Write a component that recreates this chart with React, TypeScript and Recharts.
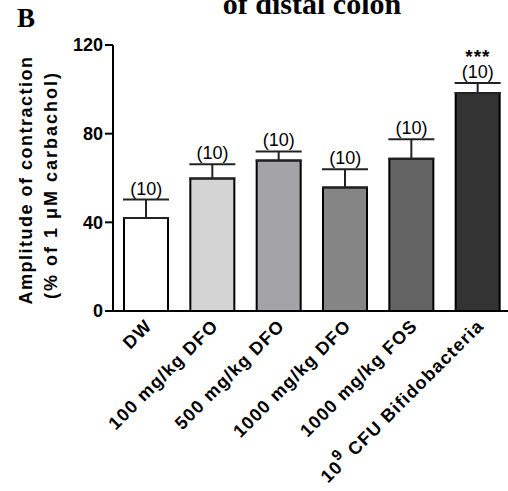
import React from "react";
import { Bar, Cell, ComposedChart, ErrorBar, LabelList, Line, XAxis, YAxis } from "recharts";

const groups = ["DW", "100 mg/kg DFO", "500 mg/kg DFO", "1000 mg/kg DFO", "1000 mg/kg FOS", "10^9 CFU Bifidobacteria"];
const means = [42, 59.8, 67.9, 55.7, 68.7, 98.3];
const sems = [8.3, 6.4, 4.1, 8.3, 8.8, 4.6];
const counts = ["(10)", "(10)", "(10)", "(10)", "(10)", "(10)"];
const marks = ["", "", "", "", "", "***"];
const fills = ["#ffffff", "#d4d4d4", "#a4a3a8", "#858585", "#636363", "#333333"];
const yTicks = [0, 40, 80, 120];

const data = groups.map((name, i) => ({
  name,
  mean: means[i],
  err: [0, sems[i]],
  top: means[i] + sems[i],
  n: counts[i],
  mark: marks[i]
}));

const sans = "'Liberation Sans', Arial, sans-serif";
const serif = "'Liberation Serif', 'Times New Roman', serif";

function GroupTick({ x, y, payload }: any) {
  const label: string = payload.value;
  const common = {
    textAnchor: "end" as const,
    fontFamily: sans,
    fontWeight: 700,
    fontSize: 18,
    letterSpacing: 1.2,
    fill: "#000"
  };
  if (label.startsWith("10^9")) {
    return (
      <g transform={`translate(${x + 7},${y + 16})`}>
        <text {...common} transform="rotate(-45)">
          <tspan>10</tspan>
          <tspan dy={-9} fontSize={15}>9</tspan>
          <tspan dy={9}>{"  CFU Bifidobacteria"}</tspan>
        </text>
      </g>
    );
  }
  return (
    <g transform={`translate(${x + 7},${y + 16})`}>
      <text {...common} transform="rotate(-45)">
        {label}
      </text>
    </g>
  );
}

export default function App() {
  return (
    <div style={{ position: "absolute", left: 0, top: 0, width: 508, height: 491, background: "#fff" }}>
      <ComposedChart width={508} height={491} data={data} margin={{ top: 45, right: -3, bottom: 0, left: 0 }}>
        <XAxis
          dataKey="name"
          interval={0}
          height={180}
          tickLine={false}
          tickSize={0}
          tickMargin={0}
          axisLine={{ stroke: "#000", strokeWidth: 2 }}
          tick={<GroupTick />}
        />
        <YAxis
          width={113}
          domain={[0, 120]}
          ticks={yTicks}
          interval={0}
          tickSize={8}
          tickMargin={2}
          axisLine={{ stroke: "#000", strokeWidth: 2 }}
          tickLine={{ stroke: "#000", strokeWidth: 2 }}
          tick={{ fill: "#000", fontSize: 18, fontWeight: 700, fontFamily: sans }}
        />
        <Bar dataKey="mean" barSize={44} stroke="#000" strokeWidth={2} isAnimationActive={false}>
          {data.map((d, i) => (
            <Cell key={d.name} fill={fills[i]} />
          ))}
          <ErrorBar dataKey="err" width={23} stroke="#222" strokeWidth={2} direction="y" />
        </Bar>
        <Line dataKey="top" stroke="none" dot={false} activeDot={false} isAnimationActive={false}>
          <LabelList dataKey="n" position="top" offset={5} fill="#000" fontSize={18} fontFamily={sans} />
          <LabelList dataKey="mark" position="top" offset={20} fill="#000" fontSize={19} fontWeight={700} fontFamily={sans} letterSpacing={1} />
        </Line>
      </ComposedChart>
      <svg width={508} height={491} style={{ position: "absolute", left: 0, top: 0, pointerEvents: "none" }}>
        <text x={312} y={14} textAnchor="middle" fontFamily={serif} fontWeight={700} fontSize={30}>
          of distal colon
        </text>
        <text x={17} y={27} fontFamily={serif} fontWeight={700} fontSize={27}>
          B
        </text>
        <text transform="translate(32,180) rotate(-90)" textAnchor="middle" fontFamily={sans} fontWeight={700} fontSize={18} letterSpacing={1.5}>
          Amplitude of contraction
        </text>
        <text transform="translate(57,185) rotate(-90)" textAnchor="middle" fontFamily={sans} fontWeight={700} fontSize={18} letterSpacing={2}>
          (% of 1 μM carbachol)
        </text>
      </svg>
    </div>
  );
}
